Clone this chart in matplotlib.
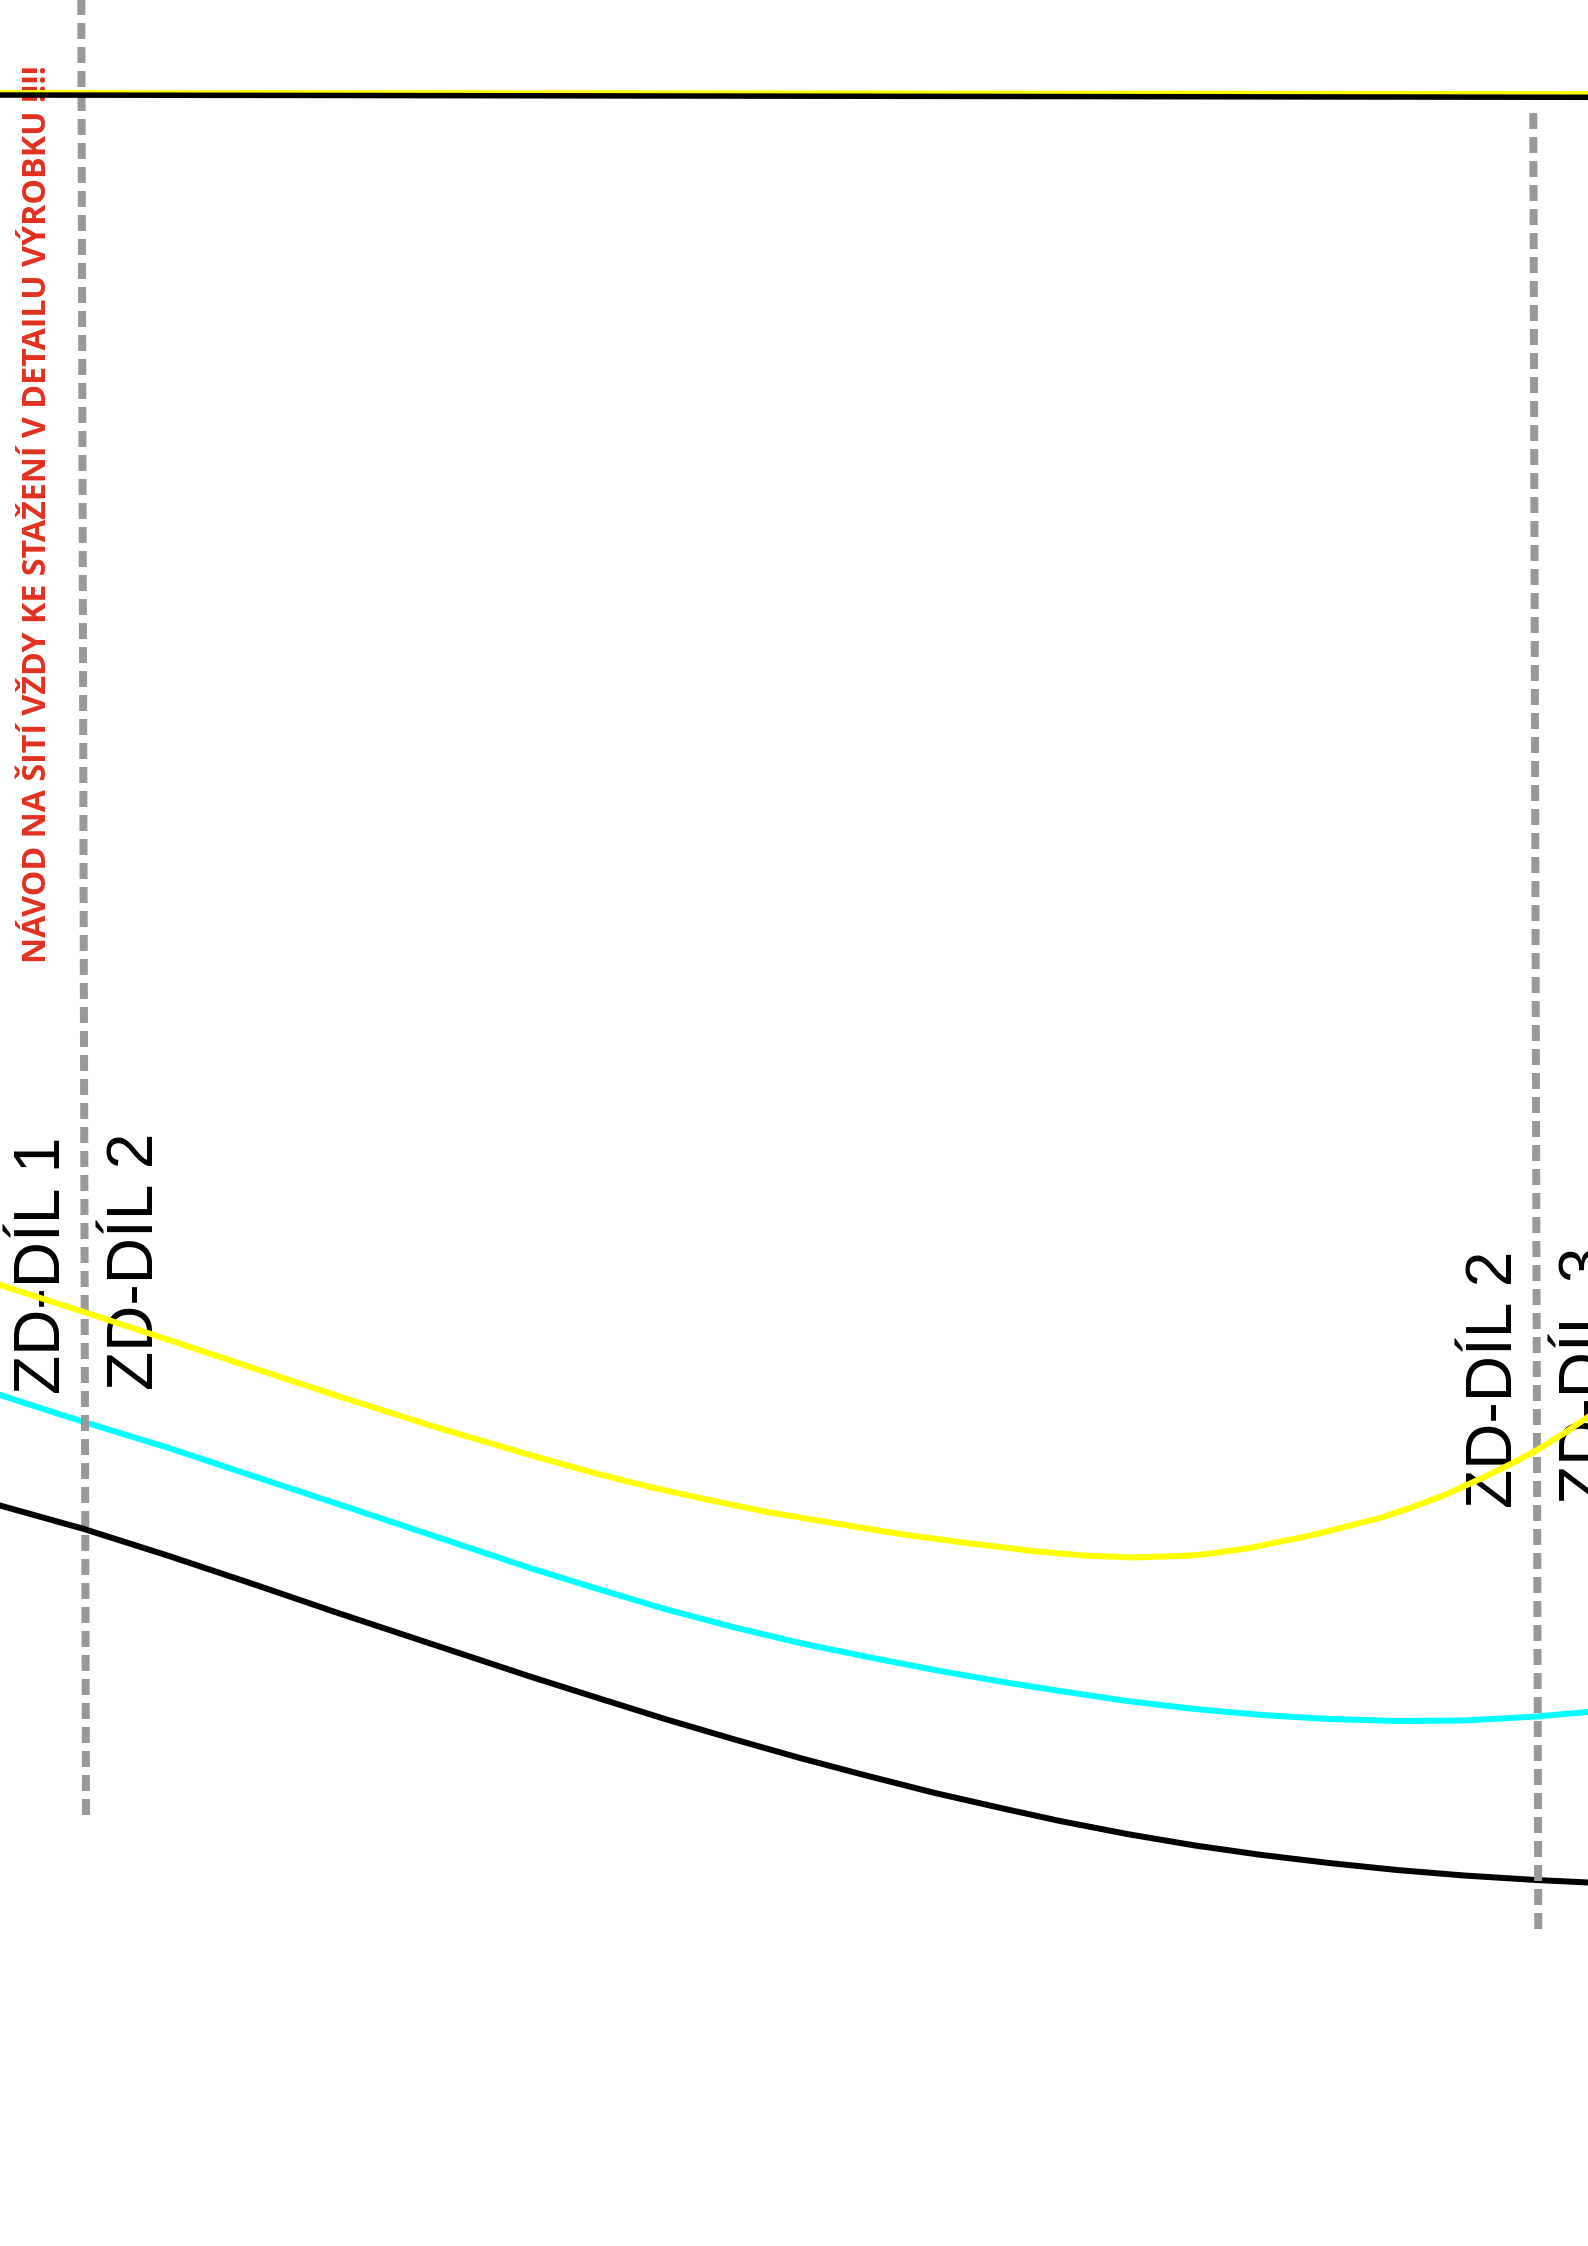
import matplotlib
matplotlib.use('Agg')
import matplotlib.pyplot as plt

# Sewing pattern sheet, values read in pixels of the page
W, H = 1588, 2246

# Top edge lines
top_x = [0, 1588]
top_black_y = [95, 97.3]
top_yellow_y = [92.5, 93.5]

# Curves
yellow_x = [0, 84, 169, 253, 338, 432, 530, 598, 650, 700, 767, 833, 900, 967, 1033, 1083, 1133, 1180, 1200, 1247, 1313, 1380, 1413, 1447, 1480, 1513, 1537, 1563, 1588]
yellow_y = [1285, 1312, 1340, 1368, 1396, 1426, 1455, 1474, 1487, 1498, 1512, 1523, 1534, 1543, 1551, 1555.5, 1557.5, 1556, 1554.8, 1548.5, 1535, 1518, 1507, 1494, 1479, 1463, 1450, 1434, 1417]

cyan_x = [0, 84, 169, 253, 338, 530, 598, 665, 733, 800, 868, 935, 1003, 1060, 1127, 1195, 1262, 1329, 1397, 1464, 1536, 1588]
cyan_y = [1395, 1422, 1448, 1476, 1504, 1568, 1589, 1609, 1627, 1643, 1657, 1670, 1682, 1691, 1701, 1709, 1715, 1719, 1721, 1720.5, 1716.5, 1712]

black_x = [0, 84, 169, 253, 338, 530, 598, 665, 733, 800, 868, 935, 1003, 1060, 1127, 1195, 1262, 1329, 1397, 1464, 1536, 1588]
black_y = [1505.5, 1529, 1556, 1584, 1613, 1676.5, 1698, 1719, 1739, 1758, 1776, 1793, 1808.5, 1821, 1834, 1845.5, 1855, 1863, 1870, 1875.5, 1880, 1882.5]

# Dashed cut lines
cut_left_x = [81.3, 86]
cut_left_y = [-1, 1816]
cut_right_x = [1533.3, 1538.3]
cut_right_y = [113, 1930]

# Labels
labels = ['ZD-DÍL 1', 'ZD-DÍL 2', 'ZD-DÍL 2', 'ZD-DÍL 3']
label_x = [60, 153, 1512, 1606]
label_y = [1394.5, 1390.5, 1507.5, 1503.5]
note = 'NÁVOD NA ŠITÍ VŽDY KE STAŽENÍ V DETAILU VÝROBKU !!!!'

px = 72 / 100  # one pixel in points at dpi 100

fig = plt.figure(figsize=(W / 100, H / 100), dpi=100)
ax = fig.add_axes([0, 0, 1, 1])
ax.set_xlim(0, W)
ax.set_ylim(H, 0)
ax.axis('off')

for s, x, y in zip(labels, label_x, label_y):
    ax.text(x, y, s, rotation=90, rotation_mode='anchor', ha='left', va='baseline',
            family='Liberation Sans', fontsize=64 * px, color='black', zorder=1, clip_on=False)

ax.text(46.5, 963, note, rotation=90, rotation_mode='anchor', ha='left', va='baseline',
        family='Open Sans', fontweight='bold', fontsize=32.3 * px, color='#e2301f', zorder=1)

ax.plot(cyan_x, cyan_y, color='#00ffff', lw=6 * px, zorder=2)
ax.plot(cut_left_x, cut_left_y, color='#999999', lw=8 * px, dashes=(2, 1), dash_capstyle='butt', zorder=3)
ax.plot(black_x, black_y, color='black', lw=6 * px, zorder=4)
ax.plot(cut_right_x, cut_right_y, color='#999999', lw=8 * px, dashes=(2, 1), dash_capstyle='butt', zorder=5)
ax.plot(yellow_x, yellow_y, color='#ffff00', lw=6 * px, zorder=6)

ax.plot(top_x, top_yellow_y, color='#ffff00', lw=5 * px, zorder=7)
ax.plot(top_x, top_black_y, color='black', lw=5.5 * px, zorder=8)

fig.savefig('out.png', dpi=100)
